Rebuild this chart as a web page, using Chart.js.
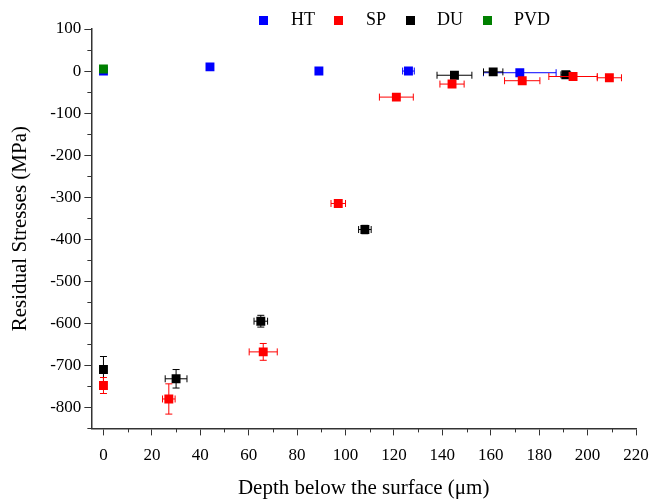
<!DOCTYPE html>
<html>
<head>
<meta charset="utf-8">
<script src="https://cdn.jsdelivr.net/npm/chart.js@4/dist/chart.umd.min.js"></script>
<style>
  html, body { margin: 0; padding: 0; background: #fff; }
  #wrap { width: 652px; height: 501px; }
</style>
</head>
<body>
<div id="wrap"><canvas id="chart"></canvas></div>
<script>
// --- data ---
const seriesNames = ['HT', 'SP', 'DU', 'PVD'];
const seriesColors = ['#0000ff', '#ff0000', '#000000', '#008000'];

const htDepth = [0, 44, 89, 126, 172];
const htStress = [0, 10, 0, 0, -4];
const htDepthErr = [0, 0, 0, 2.4, 15];
const htStressErr = [0, 0, 0, 0, 0];

const spDepth = [0, 27, 66, 97, 121, 144, 173, 194, 209];
const spStress = [-748, -780, -668, -315, -62, -31, -23, -13, -16];
const spDepthErr = [0, 2.6, 5.8, 3, 7, 5, 7.3, 10, 5];
const spStressErr = [19, 36, 20, 5, 0, 0, 0, 0, 0];

const duDepth = [0, 30, 65, 108, 145, 161, 191];
const duStress = [-710, -732, -595, -377, -10, -2, -9];
const duDepthErr = [0, 4.5, 2.8, 2.6, 7.2, 4, 2];
const duStressErr = [31, 22, 14, 10, 0, 0, 0];

const pvdDepth = [0];
const pvdStress = [5];
const pvdDepthErr = [0];
const pvdStressErr = [0];

const xMin = -5, xMax = 220, xMajor = 20, xMinor = 10;
const yMin = -850, yMax = 100, yMajor = 100, yMinor = 50;

const FONT = "'Liberation Serif', 'Times New Roman', serif";

function toPoints(xs, ys, xe, ye) {
    return xs.map((x, i) => ({ x: x, y: ys[i], xErr: xe[i], yErr: ye[i] }));
}

function swatch(color) {
    const c = document.createElement('canvas');
    c.width = 9; c.height = 9;
    const g = c.getContext('2d');
    g.fillStyle = color;
    g.fillRect(0, 0, 9, 9);
    return c;
}

function stepTicks(from, to, step) {
    const out = [];
    for (let v = Math.ceil(from / step) * step; v <= to; v += step) out.push({ value: v });
    return out;
}

// error bars drawn under each dataset's markers
const errorBars = {
    id: 'errorBars',
    beforeDatasetDraw(chart, args) {
        const ctx = chart.ctx;
        const xs = chart.scales.x, ys = chart.scales.y;
        const ds = chart.data.datasets[args.index];
        const cap = 3.5;
        ctx.save();
        ctx.strokeStyle = ds.borderColor;
        ctx.lineWidth = 1;
        ds.data.forEach(p => {
            const px = xs.getPixelForValue(p.x);
            const py = ys.getPixelForValue(p.y);
            ctx.beginPath();
            if (p.xErr) {
                const l = xs.getPixelForValue(p.x - p.xErr);
                const r = xs.getPixelForValue(p.x + p.xErr);
                ctx.moveTo(l, py); ctx.lineTo(r, py);
                ctx.moveTo(l, py - cap); ctx.lineTo(l, py + cap);
                ctx.moveTo(r, py - cap); ctx.lineTo(r, py + cap);
            }
            if (p.yErr) {
                const t = ys.getPixelForValue(p.y + p.yErr);
                const b = ys.getPixelForValue(p.y - p.yErr);
                ctx.moveTo(px, t); ctx.lineTo(px, b);
                ctx.moveTo(px - cap, t); ctx.lineTo(px + cap, t);
                ctx.moveTo(px - cap, b); ctx.lineTo(px + cap, b);
            }
            ctx.stroke();
        });
        ctx.restore();
    }
};

// short minor ticks between the labelled ones
const minorTicks = {
    id: 'minorTicks',
    afterDraw(chart) {
        const ctx = chart.ctx;
        const xs = chart.scales.x, ys = chart.scales.y;
        const len = 4;
        ctx.save();
        ctx.strokeStyle = '#333';
        ctx.lineWidth = 1;
        ctx.beginPath();
        stepTicks(xMin, xMax, xMinor).forEach(t => {
            if (t.value % xMajor === 0) return;
            const px = Math.round(xs.getPixelForValue(t.value)) + 0.5;
            ctx.moveTo(px, xs.top); ctx.lineTo(px, xs.top + len);
        });
        stepTicks(yMin, yMax, yMinor).forEach(t => {
            if (t.value % yMajor === 0) return;
            const py = Math.round(ys.getPixelForValue(t.value)) + 0.5;
            ctx.moveTo(ys.right, py); ctx.lineTo(ys.right - len, py);
        });
        ctx.stroke();
        ctx.restore();
    }
};

// the legend in the figure sits right of centre and a little lower
const legendShift = {
    id: 'legendShift',
    afterLayout(chart) {
        const lg = chart.legend;
        lg.left += 76; lg.right += 76;
        lg.top += 10; lg.bottom += 10;
    }
};

const datasets = [
    toPoints(htDepth, htStress, htDepthErr, htStressErr),
    toPoints(spDepth, spStress, spDepthErr, spStressErr),
    toPoints(duDepth, duStress, duDepthErr, duStressErr),
    toPoints(pvdDepth, pvdStress, pvdDepthErr, pvdStressErr)
].map((pts, i) => ({
    label: seriesNames[i],
    data: pts,
    backgroundColor: seriesColors[i],
    borderColor: seriesColors[i],
    borderWidth: 0,
    pointStyle: 'rect',
    pointRadius: 6.3,
    pointHoverRadius: 6.3,
    order: [3, 1, 2, 0][i]
}));

new Chart(document.getElementById('chart'), {
    type: 'scatter',
    data: { datasets: datasets },
    plugins: [errorBars, minorTicks, legendShift],
    options: {
        responsive: true,
        maintainAspectRatio: false,
        animation: false,
        layout: { padding: { left: 8, right: 16, top: -5, bottom: 0 } },
        plugins: {
            tooltip: { enabled: false },
            legend: {
                position: 'top',
                labels: {
                    usePointStyle: true,
                    pointStyleWidth: 36,
                    padding: 6,
                    color: '#000',
                    font: { family: FONT, size: 18 },
                    generateLabels(chart) {
                        return chart.data.datasets.map((ds, i) => ({
                            text: ds.label,
                            fillStyle: ds.backgroundColor,
                            strokeStyle: ds.backgroundColor,
                            lineWidth: 0,
                            pointStyle: swatch(ds.backgroundColor),
                            hidden: false,
                            datasetIndex: i,
                            fontColor: '#000'
                        }));
                    }
                }
            }
        },
        scales: {
            x: {
                type: 'linear',
                min: xMin,
                max: xMax,
                afterBuildTicks: axis => { axis.ticks = stepTicks(xMin, xMax, xMajor); },
                afterFit: axis => { axis.paddingRight = 0; },
                border: { display: true, color: '#333', width: 1.5 },
                grid: {
                    drawOnChartArea: false,
                    tickLength: 7,
                    tickWidth: 1,
                    tickColor: '#333'
                },
                ticks: {
                    autoSkip: false,
                    maxRotation: 0,
                    padding: 10,
                    color: '#000',
                    font: { family: FONT, size: 17 }
                },
                title: {
                    display: true,
                    text: 'Depth below the surface (\u03bcm)',
                    color: '#000',
                    font: { family: FONT, size: 21 },
                    padding: { top: 0, bottom: 0 }
                }
            },
            y: {
                type: 'linear',
                min: yMin,
                max: yMax,
                afterBuildTicks: axis => { axis.ticks = stepTicks(yMin, yMax, yMajor); },
                border: { display: true, color: '#333', width: 1.5 },
                grid: {
                    drawOnChartArea: false,
                    tickLength: 7,
                    tickWidth: 1,
                    tickColor: '#333'
                },
                ticks: {
                    autoSkip: false,
                    padding: 3,
                    color: '#000',
                    font: { family: FONT, size: 17 }
                },
                title: {
                    display: true,
                    text: 'Residual Stresses (MPa)',
                    color: '#000',
                    font: { family: FONT, size: 21 },
                    padding: { top: 0, bottom: 14 }
                }
            }
        }
    }
});
</script>
</body>
</html>
